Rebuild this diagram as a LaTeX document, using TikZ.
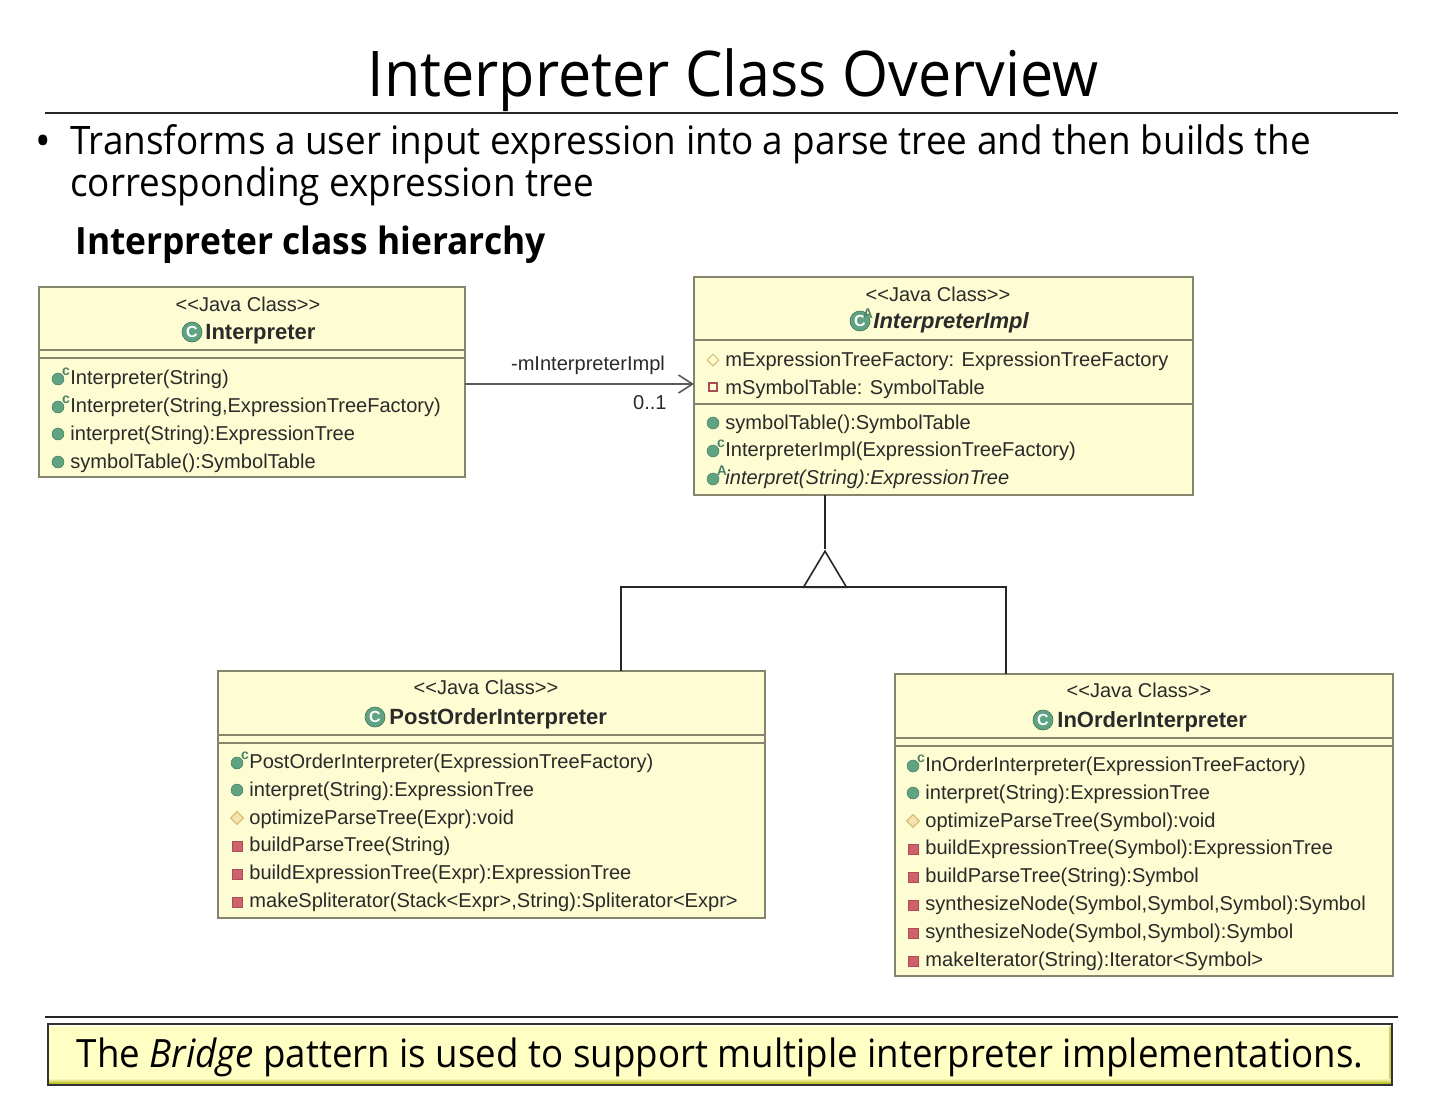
\documentclass[tikz,border=0pt]{standalone}
\usepackage{fontspec}
\setmainfont[FakeStretch=0.94]{Open Sans}
\newfontfamily\umlfont{Liberation Sans}
\usetikzlibrary{shapes.geometric,positioning,arrows.meta}
\definecolor{umlfill}{HTML}{FDFCD2}
\definecolor{umlline}{HTML}{85856E}
\definecolor{umltext}{HTML}{2A2A2A}
\definecolor{pubgreen}{HTML}{5FA382}
\definecolor{privred}{HTML}{D0606A}
\definecolor{pkgyellow}{HTML}{F0CE78}
\definecolor{notefill}{HTML}{FFFFC4}
\begin{document}
\begin{tikzpicture}[
  x=0.5pt, y=-0.5pt,
  classbox/.style={draw=umlline, fill=umlfill, line width=0.8pt, inner sep=0pt, outer sep=0pt, anchor=north west},
  divider/.style={draw=umlline, line width=0.8pt},
  stereo/.style={font=\umlfont\fontsize{10}{12}\selectfont, text=umltext, inner sep=0pt},
  classname/.style={font=\umlfont\bfseries\fontsize{11}{13}\selectfont, text=umltext, inner sep=0pt, text height=8.5pt, text depth=1.5pt},
  member/.style={font=\umlfont\fontsize{10.03}{12}\selectfont, text=umltext, anchor=west, inner sep=0pt, text height=8.4pt, text depth=1.5pt},
  pubicon/.style={circle, fill=pubgreen, draw=pubgreen!70!black, line width=0.2pt, inner sep=0pt, minimum size=6pt},
  ctoricon/.style={pubicon, label={[font=\umlfont\bfseries\fontsize{7}{7}\selectfont, text=pubgreen!80!black, inner sep=0pt, label distance=-0.6pt]40:c}},
  absicon/.style={pubicon, label={[font=\umlfont\bfseries\fontsize{7}{7}\selectfont, text=pubgreen!80!black, inner sep=0pt, label distance=-0.9pt]40:A}},
  pkgicon/.style={diamond, fill=pkgyellow!60, draw=pkgyellow!90!black, line width=0.5pt, inner sep=0pt, minimum size=6.6pt},
  privicon/.style={rectangle, fill=privred, draw=privred!80!black, line width=0.3pt, inner sep=0pt, minimum size=5pt},
  classicon/.style={circle, fill=pubgreen, draw=pubgreen!70!black, line width=0.3pt, text=white, inner sep=0pt, minimum size=10pt, font=\umlfont\bfseries\fontsize{8}{8}\selectfont},
  rule/.style={line width=0.7pt, draw=black!85},
  link/.style={line width=0.8pt, draw=black!85},
  bullettext/.style={font=\fontsize{19.6}{24}\selectfont, anchor=west, inner sep=0pt, text height=15pt, text depth=4.5pt}
]
\useasboundingbox (0,0) rectangle (1440,1116);

% slide text
\node[inner sep=0pt, font=\fontsize{31.5}{36}\selectfont] (title) at (733,80) {Interpreter Class Overview};
\coordinate (rl) at (45,113);
\coordinate (rr) at (1398,113);
\draw[rule] (rl) -- (rr);
\node[bullettext, font=\fontsize{22}{22}\selectfont] (dot) at (35,146) {•};
\node[bullettext] (line1) at (70,144) {Transforms a user input expression into a parse tree and then builds the};
\node[bullettext] (line2) at (70,186) {corresponding expression tree};
\node[anchor=west, inner sep=0pt, font=\bfseries\fontsize{18.8}{22}\selectfont] (sub) at (75,245) {Interpreter class hierarchy};

% Interpreter
\node[classbox, minimum width=213pt, minimum height=95pt] (interp) at (39,287) {};
\draw[divider] (39,350) -- (465,350);
\draw[divider] (39,358) -- (465,358);
\node[stereo] (s1) at (248,304) {<{}<Java Class>{}>};
\node[classname, anchor=west] (n1) at (205,332) {Interpreter};
\node[classicon] (c1) at (192,332) {C};
\node[ctoricon] (i11) at (58,379) {};
\node[member] (m11) at (70,378) {Interpreter(String)};
\node[ctoricon] (i12) at (58,407) {};
\node[member] (m12) at (70,406) {Interpreter(String,ExpressionTreeFactory)};
\node[pubicon] (i13) at (58,434) {};
\node[member] (m13) at (70,434) {interpret(String):ExpressionTree};
\node[pubicon] (i14) at (58,462) {};
\node[member] (m14) at (70,462) {symbolTable():SymbolTable};

% InterpreterImpl
\node[classbox, minimum width=249.5pt, minimum height=109pt] (impl) at (694,277) {};
\draw[divider] (694,340) -- (1193,340);
\draw[divider] (694,404) -- (1193,404);
\node[stereo] (s2) at (938,294) {<{}<Java Class>{}>};
\node[classname, anchor=west, font=\umlfont\bfseries\itshape\fontsize{11}{13}\selectfont] (n2) at (873,321) {InterpreterImpl};
\node[classicon, label={[font=\umlfont\bfseries\fontsize{7}{7}\selectfont, text=pubgreen!80!black, inner sep=0pt, label distance=-3.5pt]40:A}] (c2) at (860,321) {C};
\node[pkgicon, fill=umlfill, minimum size=6pt] (i21) at (713,360) {};
\node[member] (m21) at (725,360) {mExpressionTreeFactory: ExpressionTreeFactory};
\node[privicon, fill=umlfill, line width=0.9pt, minimum size=4pt] (i22) at (713,387) {};
\node[member] (m22) at (725,388) {mSymbolTable: SymbolTable};
\node[pubicon] (i23) at (713,423) {};
\node[member] (m23) at (725,423) {symbolTable():SymbolTable};
\node[ctoricon] (i24) at (713,451) {};
\node[member] (m24) at (725,450) {InterpreterImpl(ExpressionTreeFactory)};
\node[absicon] (i25) at (713,479) {};
\node[member, font=\umlfont\itshape\fontsize{10.03}{12}\selectfont] (m25) at (725,478) {interpret(String):ExpressionTree};

% PostOrderInterpreter
\node[classbox, minimum width=273.5pt, minimum height=123.5pt] (post) at (218,671) {};
\draw[divider] (218,735) -- (765,735);
\draw[divider] (218,743) -- (765,743);
\node[stereo] (s3) at (486,687) {<{}<Java Class>{}>};
\node[classname, anchor=west] (n3) at (389,717) {PostOrderInterpreter};
\node[classicon] (c3) at (375,717) {C};
\node[ctoricon] (i31) at (237,763) {};
\node[member] (m31) at (249,762) {PostOrderInterpreter(ExpressionTreeFactory)};
\node[pubicon] (i32) at (237,790) {};
\node[member] (m32) at (249,790) {interpret(String):ExpressionTree};
\node[pkgicon] (i33) at (237,818) {};
\node[member] (m33) at (249,818) {optimizeParseTree(Expr):void};
\node[privicon] (i34) at (237,846) {};
\node[member] (m34) at (249,845) {buildParseTree(String)};
\node[privicon] (i35) at (237,874) {};
\node[member] (m35) at (249,873) {buildExpressionTree(Expr):ExpressionTree};
\node[privicon] (i36) at (237,902) {};
\node[member] (m36) at (249,901) {makeSpliterator(Stack<Expr>,String):Spliterator<Expr>};

% InOrderInterpreter
\node[classbox, minimum width=249pt, minimum height=151pt] (inord) at (895,674) {};
\draw[divider] (895,738) -- (1393,738);
\draw[divider] (895,746) -- (1393,746);
\node[stereo] (s4) at (1139,690) {<{}<Java Class>{}>};
\node[classname, anchor=west] (n4) at (1057,720) {InOrderInterpreter};
\node[classicon] (c4) at (1043,720) {C};
\node[ctoricon] (i41) at (913,766) {};
\node[member] (m41) at (925,765) {InOrderInterpreter(ExpressionTreeFactory)};
\node[pubicon] (i42) at (913,793) {};
\node[member] (m42) at (925,793) {interpret(String):ExpressionTree};
\node[pkgicon] (i43) at (913,821) {};
\node[member] (m43) at (925,821) {optimizeParseTree(Symbol):void};
\node[privicon] (i44) at (913,849) {};
\node[member] (m44) at (925,848) {buildExpressionTree(Symbol):ExpressionTree};
\node[privicon] (i45) at (913,877) {};
\node[member] (m45) at (925,876) {buildParseTree(String):Symbol};
\node[privicon] (i46) at (913,905) {};
\node[member] (m46) at (925,904) {synthesizeNode(Symbol,Symbol,Symbol):Symbol};
\node[privicon] (i47) at (913,933) {};
\node[member] (m47) at (925,932) {synthesizeNode(Symbol,Symbol):Symbol};
\node[privicon] (i48) at (913,961) {};
\node[member] (m48) at (925,960) {makeIterator(String):Iterator<Symbol>};

% association
\draw[link, draw=black!65, -{Straight Barb[length=7pt,width=9pt]}] ([yshift=-1pt]interp.east) -- ([yshift=1pt]impl.west);
\node[member, anchor=center] (role) at (588,364) {-mInterpreterImpl};
\node[member, anchor=east] (mult) at (667,403) {0..1};

% generalization
\node[isosceles triangle, isosceles triangle stretches, shape border rotate=90, draw=black!85, line width=0.8pt, fill=white, inner sep=0pt, minimum width=21.5pt, minimum height=18pt] (gen) at (825,575) {};
\coordinate (gl) at (621,587);
\coordinate (gr) at (1006,587);
\draw[link] (gen.apex) -- (gen.apex |- impl.south);
\draw[link] (gl |- post.north) -- (gl) -- (gr) -- (gr |- inord.north);

% note at the bottom
\coordinate (bl) at (45,1017);
\coordinate (br) at (1398,1017);
\draw[rule] (bl) -- (br);
\node[draw=black!80, fill=notefill, line width=0.8pt, inner sep=0pt, outer sep=0pt, minimum width=672pt, minimum height=30.5pt] (note) at (720,1054.5) {};
\shade[top color=notefill, bottom color=olive!65!notefill] ([xshift=0.4pt,yshift=3.4pt]note.south west) rectangle ([xshift=-0.4pt,yshift=0.4pt]note.south east);
\fill[olive!40!notefill] ([xshift=-1.4pt,yshift=3pt]note.south east) rectangle ([xshift=-0.4pt,yshift=-0.4pt]note.north east);
\fill[white, opacity=0.6] ([xshift=0.4pt,yshift=-0.4pt]note.north west) rectangle ([xshift=-0.4pt,yshift=-1.6pt]note.north east);
\draw[draw=black!80, line width=0.8pt] (note.south west) rectangle (note.north east);
\node[inner sep=0pt, font=\fontsize{19.5}{24}\selectfont] (notetext) at (720,1057) {The \textit{Bridge} pattern is used to support multiple interpreter implementations.};
\end{tikzpicture}
\end{document}
